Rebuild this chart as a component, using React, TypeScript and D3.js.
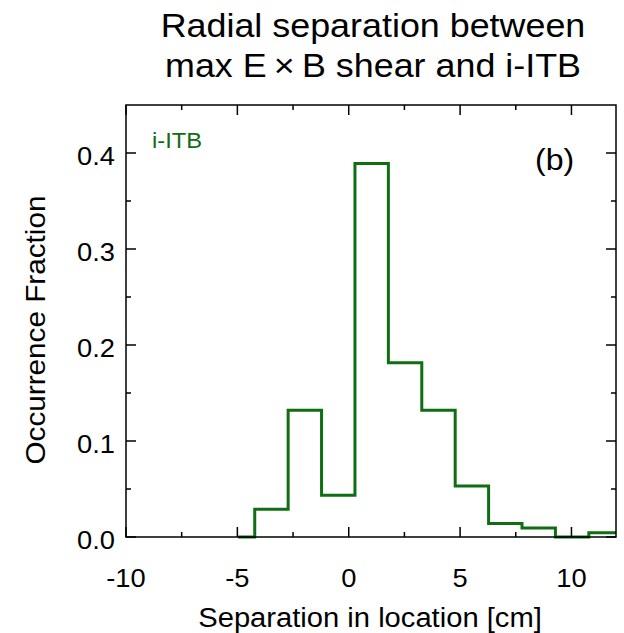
import React from "react";
import * as d3 from "d3";

const binEdges = [-4.97, -4.22, -2.72, -1.22, 0.28, 1.78, 3.28, 4.78, 6.28, 7.78, 9.28, 10.78, 12.0];
const binValues = [0.0, 0.029, 0.132, 0.0435, 0.389, 0.1815, 0.132, 0.053, 0.014, 0.0095, 0.0, 0.0045];
const xTicks = [-10, -5, 0, 5, 10];
const yTicks = [0.0, 0.1, 0.2, 0.3, 0.4];
const titleLines = ["Radial separation between", "max E\u2009\u00d7\u2009B shear and i-ITB"];
const xLabel = "Separation in location [cm]";
const yLabel = "Occurrence Fraction";
const seriesName = "i-ITB";
const panelLabel = "(b)";

const W = 624;
const H = 633;
const M = { left: 126, right: 8, top: 105, bottom: 96 };
const GREEN = "#0f6e12";
const FONT = "'Liberation Sans', Arial, Helvetica, sans-serif";

function T(props: {
  x: number; y: number; size: number; sx?: number; anchor?: string; rot?: number; fill?: string; children: React.ReactNode;
}) {
  const { x, y, size, sx = 1.06, anchor = "start", rot = 0, fill = "#000", children } = props;
  return (
    <text
      transform={`translate(${x},${y}) rotate(${rot}) scale(${sx},1)`}
      fontSize={size}
      textAnchor={anchor}
      fill={fill}
    >
      {children}
    </text>
  );
}

export default function App() {
  const x = d3.scaleLinear().domain([-10, 12]).range([M.left, W - M.right]);
  const y = d3.scaleLinear().domain([0, 0.45]).range([H - M.bottom, M.top]);
  const x0 = x.range()[0], x1 = x.range()[1];
  const y0 = y.range()[0], y1 = y.range()[1];

  const pts: [number, number][] = [];
  binValues.forEach((v, i) => {
    pts.push([binEdges[i], v]);
    pts.push([binEdges[i + 1], v]);
  });
  const line = d3.line<[number, number]>().x((d) => x(d[0])).y((d) => y(d[1]));

  const xMinor = d3.range(-10, 12.01, 2.5).filter((v) => !xTicks.includes(v));
  const yMinor = d3.range(0.05, 0.45, 0.1);

  return (
    <svg width={W} height={H} style={{ position: "absolute", left: 0, top: 0, background: "#fff" }} fontFamily={FONT}>
      <rect x={0} y={0} width={W} height={H} fill="#fff" />
      <defs>
        <clipPath id="plotclip">
          <rect x={x0} y={y1} width={x1 - x0} height={y0 - y1 + 4} />
        </clipPath>
      </defs>
      {titleLines.map((t, i) => (
        <T key={t} x={373} y={37 + i * 40} size={34} sx={1.055} anchor="middle">{t}</T>
      ))}
      <path d={line(pts) || ""} fill="none" stroke={GREEN} strokeWidth={3} clipPath="url(#plotclip)" />
      <rect x={x0} y={y1} width={x1 - x0} height={y0 - y1} fill="none" stroke="#000" strokeWidth={1.5} />
      {xTicks.map((t) => (
        <g key={"xt" + t}>
          <line x1={x(t)} x2={x(t)} y1={y0} y2={y0 - 10} stroke="#000" strokeWidth={1.5} />
          <line x1={x(t)} x2={x(t)} y1={y1} y2={y1 + 10} stroke="#000" strokeWidth={1.5} />
          <T x={x(t)} y={587} size={26} sx={1.05} anchor="middle">{t}</T>
        </g>
      ))}
      {xMinor.map((t) => (
        <g key={"xm" + t}>
          <line x1={x(t)} x2={x(t)} y1={y0} y2={y0 - 5} stroke="#000" strokeWidth={1.5} />
          <line x1={x(t)} x2={x(t)} y1={y1} y2={y1 + 5} stroke="#000" strokeWidth={1.5} />
        </g>
      ))}
      {yTicks.map((t) => (
        <g key={"yt" + t}>
          <line x1={x0} x2={x0 + 10} y1={y(t)} y2={y(t)} stroke="#000" strokeWidth={1.5} />
          <line x1={x1} x2={x1 - 10} y1={y(t)} y2={y(t)} stroke="#000" strokeWidth={1.5} />
          <T x={115} y={y(t) + 12} size={26} sx={1.05} anchor="end">{d3.format(".1f")(t)}</T>
        </g>
      ))}
      {yMinor.map((t) => (
        <g key={"ym" + t}>
          <line x1={x0} x2={x0 + 5} y1={y(t)} y2={y(t)} stroke="#000" strokeWidth={1.5} />
          <line x1={x1} x2={x1 - 5} y1={y(t)} y2={y(t)} stroke="#000" strokeWidth={1.5} />
        </g>
      ))}
      <T x={370} y={627} size={27} sx={1.08} anchor="middle">{xLabel}</T>
      <T x={45} y={330} size={27} sx={1.1} rot={-90} anchor="middle">{yLabel}</T>
      <T x={152} y={148} size={22} sx={1.08} fill={GREEN}>{seriesName}</T>
      <T x={535} y={170} size={30} sx={1.07}>{panelLabel}</T>
    </svg>
  );
}
